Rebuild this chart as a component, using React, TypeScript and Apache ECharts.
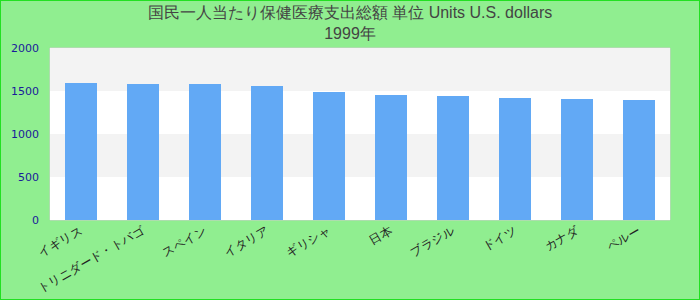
import React, { useEffect, useRef } from "react";
import * as echarts from "echarts";

const titleText = "国民一人当たり保健医療支出総額 単位 Units U.S. dollars\n1999年";
const categories = [
  "イギリス",
  "トリニダード・トバゴ",
  "スペイン",
  "イタリア",
  "ギリシャ",
  "日本",
  "ブラジル",
  "ドイツ",
  "カナダ",
  "ペルー",
];
const values = [1593, 1581, 1581, 1558, 1488, 1453, 1442, 1419, 1407, 1395];
const yTicks = { min: 0, max: 2000, interval: 500 };

export default function App() {
  const ref = useRef<HTMLDivElement>(null);
  useEffect(() => {
    if (!ref.current) return;
    const chart = echarts.init(ref.current, undefined, { renderer: "svg" });
    chart.setOption({
      animation: false,
      backgroundColor: "#90ee90",
      title: {
        text: titleText,
        left: "center",
        top: 0,
        padding: [2, 5, 5, 5],
        textStyle: {
          fontSize: 16,
          fontWeight: "normal",
          color: "#444",
          fontFamily: "Liberation Sans, Arial, sans-serif",
          lineHeight: 21,
        },
      },
      graphic: [
        {
          type: "rect",
          shape: { x: 0, y: 0, width: 700, height: 300 },
          style: { fill: "none", stroke: "#22e022", lineWidth: 2 },
          silent: true,
        },
      ],
      grid: {
        left: 50,
        right: 30,
        top: 48,
        bottom: 80,
        show: true,
        backgroundColor: "#ffffff",
        borderColor: "#cccccc",
        borderWidth: 1,
      },
      xAxis: {
        type: "category",
        data: categories,
        axisLine: { show: false },
        axisTick: { show: false },
        axisLabel: {
          rotate: 30,
          interval: 0,
          color: "#222",
          fontSize: 12,
          margin: 10,
        },
      },
      yAxis: {
        type: "value",
        min: yTicks.min,
        max: yTicks.max,
        interval: yTicks.interval,
        axisLine: { show: false },
        axisTick: { show: false },
        splitLine: { show: false },
        splitArea: { show: true, areaStyle: { color: ["#ffffff", "#f3f3f3"] } },
        axisLabel: {
          color: "#1a1a9a",
          fontSize: 11,
          margin: 11,
          fontFamily: "DejaVu Sans",
          formatter: (v: number) => String(v),
        },
      },
      series: [
        {
          type: "bar",
          data: values,
          barWidth: 32,
          itemStyle: { color: "#62a9f5" },
        },
      ],
    });
    return () => chart.dispose();
  }, []);
  return (
    <div
      ref={ref}
      style={{ position: "absolute", left: 0, top: 0, width: 700, height: 300 }}
    />
  );
}
